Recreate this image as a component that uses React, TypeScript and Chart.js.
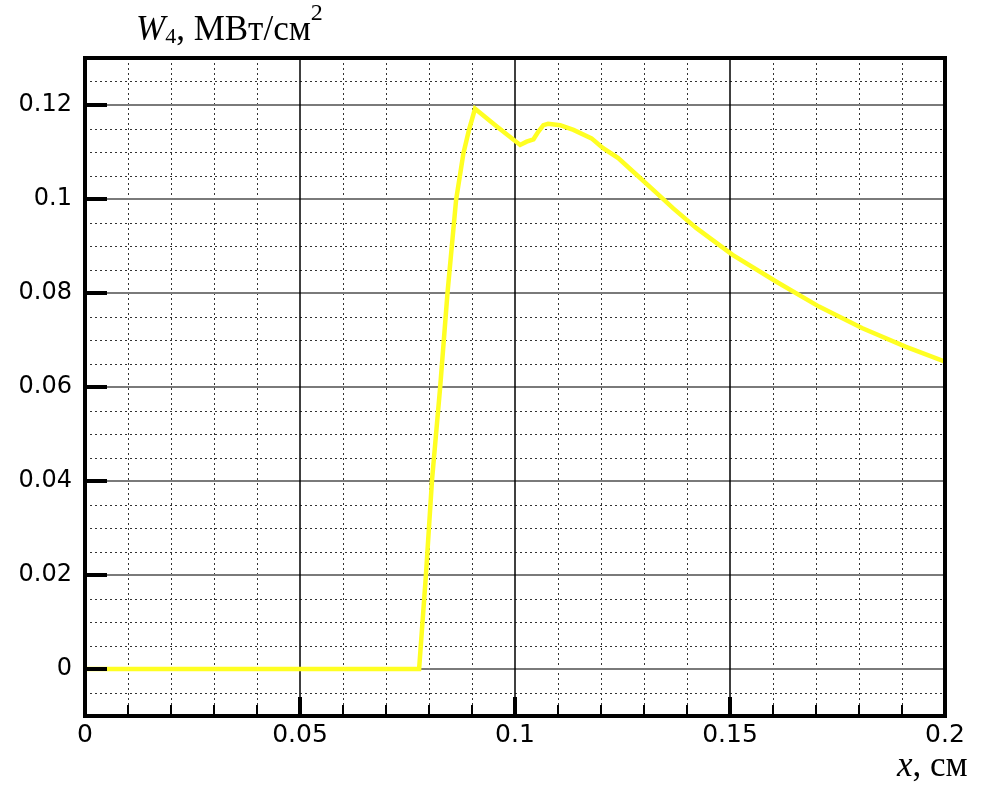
import React, { useEffect, useRef } from "react";
import { Chart, registerables } from "chart.js";

Chart.register(...registerables);

// Curve W4(x)
const xValues = [
  0, 0.0777, 0.0793, 0.0807, 0.0826, 0.0843, 0.0863, 0.088, 0.0893, 0.0907,
  0.0957, 0.1012, 0.1027, 0.1043, 0.1054, 0.1066, 0.1077, 0.1105, 0.1136,
  0.1178, 0.1205, 0.124, 0.1275, 0.1322, 0.1368, 0.1422, 0.1506, 0.1608,
  0.1707, 0.1808, 0.1908, 0.2,
];
const wValues = [
  0, 0, 0.0202, 0.0402, 0.06, 0.08, 0.0998, 0.1097, 0.1147, 0.1192,
  0.1155, 0.1115, 0.1122, 0.1127, 0.1143, 0.1157, 0.116, 0.1157, 0.1147,
  0.1129, 0.1108, 0.1087, 0.1058, 0.1019, 0.098, 0.0938, 0.0881, 0.0824,
  0.0771, 0.0725, 0.0686, 0.0654,
];

const xTickValues = [0, 0.05, 0.1, 0.15, 0.2];
const xTickLabels = ["0", "0.05", "0.1", "0.15", "0.2"];
const yTickValues = [0, 0.02, 0.04, 0.06, 0.08, 0.1, 0.12];
const yTickLabels = ["0", "0.02", "0.04", "0.06", "0.08", "0.1", "0.12"];
const xMinorStep = 0.01;
const yMinorStep = 0.005;
const xMin = 0, xMax = 0.2, yMin = -0.01, yMax = 0.13;

const near = (v: number, arr: number[]) => arr.some((a) => Math.abs(a - v) < 1e-9);

const gridPlugin = {
  id: "gridPlugin",
  beforeDatasetsDraw(chart: any) {
    const { ctx, chartArea: a, scales } = chart;
    const xs = scales.x, ys = scales.y;
    ctx.save();
    ctx.beginPath();
    ctx.rect(a.left, a.top, a.right - a.left, a.bottom - a.top);
    ctx.clip();
    // minor dotted
    ctx.setLineDash([2, 3]);
    ctx.strokeStyle = "#333";
    ctx.lineWidth = 1;
    const nY = Math.round((yMax - yMin) / yMinorStep);
    for (let k = 0; k <= nY; k++) {
      const v = +(yMin + k * yMinorStep).toFixed(4);
      if (near(v, yTickValues)) continue;
      const py = Math.round(ys.getPixelForValue(v)) + 0.5;
      ctx.beginPath();
      ctx.moveTo(a.left, py);
      ctx.lineTo(a.right, py);
      ctx.stroke();
    }
    const nX = Math.round((xMax - xMin) / xMinorStep);
    for (let k = 0; k <= nX; k++) {
      const v = +(xMin + k * xMinorStep).toFixed(4);
      if (near(v, xTickValues)) continue;
      const px = Math.round(xs.getPixelForValue(v)) + 0.5;
      ctx.beginPath();
      ctx.moveTo(px, a.top);
      ctx.lineTo(px, a.bottom);
      ctx.stroke();
    }
    ctx.setLineDash([]);
    // major
    ctx.strokeStyle = "#7a7a7a";
    ctx.lineWidth = 2;
    for (const v of yTickValues) {
      const py = Math.round(ys.getPixelForValue(v));
      ctx.beginPath();
      ctx.moveTo(a.left, py);
      ctx.lineTo(a.right, py);
      ctx.stroke();
    }
    ctx.strokeStyle = "#000";
    ctx.lineWidth = 1.5;
    for (const v of xTickValues) {
      const px = Math.round(xs.getPixelForValue(v));
      ctx.beginPath();
      ctx.moveTo(px, a.top);
      ctx.lineTo(px, a.bottom);
      ctx.stroke();
    }
    ctx.restore();
  },
  afterDatasetsDraw(chart: any) {
    const { ctx, chartArea: a, scales } = chart;
    const xs = scales.x, ys = scales.y;
    ctx.save();
    ctx.strokeStyle = "#000";
    // y major ticks
    ctx.lineWidth = 4;
    for (const v of yTickValues) {
      const py = Math.round(ys.getPixelForValue(v));
      ctx.beginPath();
      ctx.moveTo(a.left, py);
      ctx.lineTo(a.left + 22, py);
      ctx.stroke();
    }
    // x minor ticks
    ctx.lineWidth = 2;
    const nX = Math.round((xMax - xMin) / xMinorStep);
    for (let k = 0; k <= nX; k++) {
      const v = +(xMin + k * xMinorStep).toFixed(4);
      const px = Math.round(xs.getPixelForValue(v));
      ctx.beginPath();
      ctx.moveTo(px, a.bottom);
      ctx.lineTo(px, a.bottom - 11);
      ctx.stroke();
    }
    // x major ticks
    ctx.lineWidth = 4;
    for (const v of xTickValues) {
      const px = Math.round(xs.getPixelForValue(v));
      ctx.beginPath();
      ctx.moveTo(px, a.bottom);
      ctx.lineTo(px, a.bottom - 19);
      ctx.stroke();
    }
    // frame
    ctx.lineWidth = 4;
    ctx.strokeRect(a.left, a.top, a.right - a.left, a.bottom - a.top);
    ctx.restore();
  },
};

export default function App() {
  const ref = useRef<HTMLCanvasElement | null>(null);
  useEffect(() => {
    if (!ref.current) return;
    const chart = new Chart(ref.current, {
      type: "line",
      data: {
        datasets: [
          {
            data: xValues.map((x, i) => ({ x, y: wValues[i] })),
            borderColor: "#ffff22",
            borderWidth: 4.5,
            pointRadius: 0,
            tension: 0,
            fill: false,
          },
        ],
      },
      options: {
        animation: false,
        responsive: false,
        devicePixelRatio: 1,
        layout: { padding: { left: 0, right: 37, top: 58, bottom: 0 } },
        plugins: { legend: { display: false }, tooltip: { enabled: false } },
        scales: {
          x: {
            type: "linear",
            min: xMin,
            max: xMax,
            grid: { display: false, drawTicks: false },
            border: { display: false },
            afterBuildTicks: (s: any) => {
              s.ticks = xTickValues.map((v) => ({ value: v }));
            },
            afterFit: (s: any) => {
              s.height = 75;
            },
            ticks: {
              autoSkip: false,
              maxRotation: 0,
              padding: 4,
              color: "#000",
              font: { family: "'DejaVu Sans', sans-serif", size: 25 },
              callback: (_v: any, i: number) => xTickLabels[i],
            },
          },
          y: {
            type: "linear",
            min: yMin,
            max: yMax,
            grid: { display: false, drawTicks: false },
            border: { display: false },
            afterBuildTicks: (s: any) => {
              s.ticks = yTickValues.map((v) => ({ value: v }));
            },
            afterFit: (s: any) => {
              s.width = 85;
            },
            ticks: {
              autoSkip: false,
              padding: 13,
              color: "#000",
              font: { family: "'DejaVu Sans', sans-serif", size: 24 },
              callback: (_v: any, i: number) => yTickLabels[i],
            },
          },
        },
      },
      plugins: [gridPlugin],
    });
    return () => chart.destroy();
  }, []);

  const serif = "'Liberation Serif', 'Times New Roman', serif";
  return (
    <div style={{ position: "absolute", left: 0, top: 0, width: 982, height: 791, background: "#fff" }}>
      <canvas ref={ref} width={982} height={791} style={{ width: 982, height: 791, display: "block" }} />
      <div
        style={{
          position: "absolute",
          left: 136,
          top: 11,
          fontFamily: serif,
          fontSize: 35,
          lineHeight: "35px",
          whiteSpace: "nowrap",
          color: "#000",
        }}
      >
        <i>W</i>
        <span style={{ fontSize: 22, position: "relative", top: 3 }}>4</span>
        , МВт/см
        <span style={{ fontSize: 24, position: "relative", top: -20 }}>2</span>
      </div>
      <div
        style={{
          position: "absolute",
          left: 897,
          top: 746.7,
          fontFamily: serif,
          fontSize: 35,
          lineHeight: "35px",
          whiteSpace: "nowrap",
          color: "#000",
        }}
      >
        <i>x</i>, см
      </div>
    </div>
  );
}
